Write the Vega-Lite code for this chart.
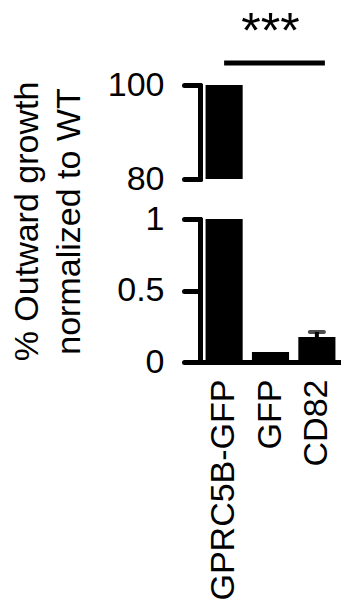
{
  "$schema": "https://vega.github.io/schema/vega-lite/v6.json",
  "padding": {"left": 10, "top": 8, "right": 0, "bottom": 0},
  "background": "white",
  "bounds": "flush",
  "spacing": 40,
  "config": {
    "view": {"stroke": null},
    "font": "Liberation Sans",
    "axis": {
      "domainColor": "black", "domainWidth": 5, "domainCap": "round",
      "tickColor": "black", "tickWidth": 5, "tickCap": "round", "tickSize": 16,
      "labelFontSize": 34, "labelColor": "black", "labelFont": "Liberation Sans", "labelLimit": 0,
      "titleFontSize": 34, "titleColor": "black", "titleFont": "Liberation Sans", "titleFontWeight": "normal",
      "grid": false
    }
  },
  "datasets": {
    "bars": [
      {"construct": "GPRC5B-GFP", "value": 100},
      {"construct": "GFP", "value": 0.07},
      {"construct": "CD82", "value": 0.175, "upper": 0.21}
    ],
    "sig": [
      {"from": "GPRC5B-GFP", "to": "CD82", "level": 104.7, "label": "***", "label_at": "GFP", "label_level": 111}
    ]
  },
  "vconcat": [
    {
      "width": 141,
      "height": 94,
      "layer": [
        {
          "data": {"name": "bars"},
          "transform": [{"filter": "datum.value >= 80"}],
          "mark": {"type": "bar", "color": "black", "clip": true},
          "encoding": {
            "x": {"field": "construct", "type": "nominal", "sort": null,
                  "scale": {"domain": ["GPRC5B-GFP", "GFP", "CD82"], "paddingInner": 0.2, "paddingOuter": 0.12},
                  "axis": null},
            "y": {"field": "value", "type": "quantitative",
                  "scale": {"domain": [80, 100], "nice": false, "zero": false},
                  "axis": {"values": [80, 100], "title": null, "labelPadding": 20}}
          }
        },
        {
          "data": {"name": "sig"},
          "mark": {"type": "rule", "color": "black", "strokeWidth": 5, "x2Offset": 8},
          "encoding": {
            "x": {"field": "from", "type": "nominal"},
            "x2": {"field": "to"},
            "y": {"field": "level", "type": "quantitative"}
          }
        },
        {
          "data": {"name": "sig"},
          "mark": {"type": "text", "color": "black", "fontSize": 50, "baseline": "middle", "align": "center"},
          "encoding": {
            "x": {"field": "label_at", "type": "nominal"},
            "y": {"field": "label_level", "type": "quantitative"},
            "text": {"field": "label"}
          }
        }
      ]
    },
    {
      "width": 141,
      "height": 143,
      "data": {"name": "bars"},
      "layer": [
        {
          "mark": {"type": "bar", "color": "black"},
          "encoding": {
            "x": {"field": "construct", "type": "nominal", "sort": null,
                  "scale": {"domain": ["GPRC5B-GFP", "GFP", "CD82"], "paddingInner": 0.2, "paddingOuter": 0.12},
                  "axis": {"title": null, "labelAngle": -90, "ticks": false, "labelPadding": 17}},
            "y": {"field": "value", "type": "quantitative",
                  "scale": {"domain": [0, 1], "nice": false, "clamp": true},
                  "axis": {"values": [0, 0.5, 1], "format": "~g", "labelPadding": 20,
                           "title": ["% Outward growth", "normalized to WT"],
                           "titleLineHeight": 42, "titlePadding": 30, "titleY": 2}}
          }
        },
        {
          "transform": [{"filter": "isValid(datum.upper)"}],
          "mark": {"type": "rule", "color": "black", "strokeWidth": 4},
          "encoding": {
            "x": {"field": "construct", "type": "nominal"},
            "y": {"field": "value", "type": "quantitative"},
            "y2": {"field": "upper"}
          }
        },
        {
          "transform": [{"filter": "isValid(datum.upper)"}],
          "mark": {"type": "tick", "color": "black", "size": 18, "thickness": 4, "cornerRadius": 2},
          "encoding": {
            "x": {"field": "construct", "type": "nominal"},
            "y": {"field": "upper", "type": "quantitative"}
          }
        }
      ]
    }
  ]
}
